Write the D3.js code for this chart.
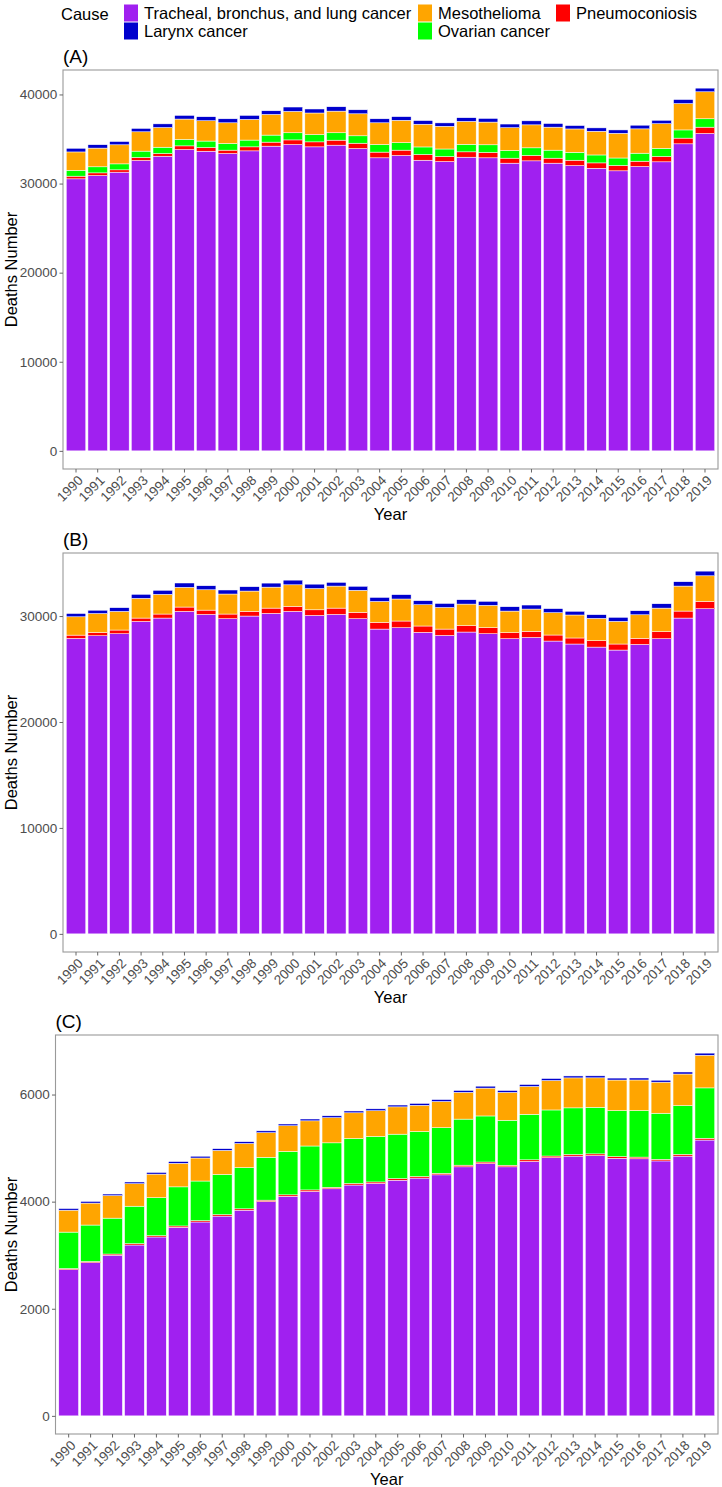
<!DOCTYPE html>
<html>
<head>
<meta charset="utf-8">
<script src="https://cdn.jsdelivr.net/npm/d3@7"></script>
<style>
    body { margin: 0; background: #ffffff; }
    svg text { font-family: "Liberation Sans", Arial, Helvetica, sans-serif; }
</style>
</head>
<body>
<svg id="chart" width="722" height="1487"></svg>
<script>
const years = ["1990", "1991", "1992", "1993", "1994", "1995", "1996", "1997", "1998", "1999",
    "2000", "2001", "2002", "2003", "2004", "2005", "2006", "2007", "2008", "2009",
    "2010", "2011", "2012", "2013", "2014", "2015", "2016", "2017", "2018", "2019"];

// stacking order, bottom to top
const keys = ["lung", "pneumo", "ovarian", "meso", "larynx"];
const causeNames = {
    lung: "Tracheal, bronchus, and lung cancer",
    meso: "Mesothelioma",
    pneumo: "Pneumoconiosis",
    larynx: "Larynx cancer",
    ovarian: "Ovarian cancer"
};
const causeColors = {
    lung: "#A020F0",
    meso: "#FFA500",
    pneumo: "#FF0000",
    larynx: "#0000CD",
    ovarian: "#00FF00"
};

// (A)
const lungA = [30530, 30900, 31280, 32590, 33070, 33820, 33630, 33370, 33670, 34200, 34380, 34120, 34310, 33930, 32890,
    33150, 32620, 32470, 32960, 32890, 32290, 32550, 32290, 32020, 31720, 31430, 31910, 32440, 34460, 35620];
const pneumoA = [300, 300, 260, 340, 300, 410, 410, 380, 450, 450, 520, 560, 560, 600, 640,
    600, 640, 560, 600, 600, 560, 600, 560, 600, 600, 600, 600, 600, 640, 710];
const ovarianA = [660, 680, 670, 710, 710, 720, 730, 750, 760, 790, 800, 810, 830, 830, 850,
    840, 850, 850, 840, 860, 870, 860, 900, 890, 890, 840, 900, 910, 920, 940];
const mesoA = [2060, 2100, 2140, 2170, 2210, 2290, 2280, 2320, 2320, 2320, 2400, 2430, 2430, 2470, 2440,
    2510, 2550, 2550, 2580, 2550, 2550, 2580, 2580, 2620, 2660, 2770, 2730, 2770, 2960, 3030];
const larynxA = [410, 380, 370, 380, 410, 410, 450, 450, 450, 410, 490, 450, 490, 450, 450,
    410, 410, 380, 410, 410, 410, 450, 410, 380, 380, 380, 410, 380, 450, 410];

// (B)
const lungB = [27890, 28140, 28330, 29490, 29810, 30440, 30150, 29750, 30000, 30250, 30440, 30060, 30150, 29750, 28770,
    28900, 28460, 28170, 28490, 28330, 27860, 27980, 27640, 27360, 27070, 26790, 27320, 27860, 29810, 30690];
const pneumoB = [310, 310, 350, 320, 380, 410, 410, 440, 440, 500, 470, 530, 600, 600, 630,
    630, 600, 600, 600, 570, 570, 570, 570, 570, 600, 570, 570, 660, 660, 690];
const ovarianB = [0, 0, 0, 0, 0, 0, 0, 0, 0, 0, 0, 0, 0, 0, 0,
    0, 0, 0, 0, 0, 0, 0, 0, 0, 0, 0, 0, 0, 0, 0];
const mesoB = [1730, 1790, 1760, 1860, 1860, 1860, 1920, 1890, 1920, 1980, 2040, 2010, 2080, 2080, 1980,
    2080, 2010, 2040, 2040, 2110, 2040, 2110, 2110, 2170, 2110, 2140, 2230, 2230, 2360, 2420];
const larynxB = [310, 310, 350, 380, 380, 410, 380, 380, 410, 380, 440, 410, 350, 380, 380,
    410, 380, 380, 410, 380, 410, 380, 380, 350, 350, 380, 380, 410, 410, 440];

// (C)
const lungC = [2730, 2860, 3000, 3190, 3340, 3520, 3620, 3730, 3840, 4000, 4100, 4190, 4240, 4310, 4340,
    4400, 4440, 4500, 4650, 4710, 4650, 4750, 4820, 4850, 4860, 4810, 4800, 4760, 4850, 5150];
const pneumoC = [21, 23, 22, 25, 24, 26, 25, 27, 26, 28, 27, 29, 28, 29, 28,
    30, 29, 30, 31, 30, 30, 31, 32, 31, 32, 31, 32, 31, 33, 34];
const ovarianC = [680, 680, 670, 700, 710, 730, 740, 750, 770, 800, 810, 820, 830, 840, 850,
    830, 840, 850, 860, 860, 840, 850, 860, 870, 870, 860, 870, 860, 910, 940];
const mesoC = [410, 410, 420, 420, 440, 440, 430, 450, 450, 460, 480, 470, 470, 480, 480,
    510, 490, 490, 500, 520, 520, 520, 550, 560, 550, 570, 570, 580, 590, 610];
const larynxC = [30, 31, 30, 32, 31, 32, 33, 32, 33, 34, 33, 34, 35, 34, 35,
    34, 35, 36, 35, 36, 35, 36, 37, 36, 37, 36, 37, 36, 38, 39];

const ticksAB = [0, 10000, 20000, 30000, 40000];
const ticksC = [0, 2000, 4000, 6000];

const svg = d3.select("#chart");
const panelRight = 718;
const panelH = 399;

function drawLegend() {
    const g = svg.append("g").attr("class", "legend");
    g.append("text")
        .attr("x", 61).attr("y", 14).attr("dy", "0.35em")
        .attr("font-size", "16.5px").attr("fill", "#000")
        .text("Cause");

    const items = [
        { key: "lung", x: 124, row: 0 },
        { key: "larynx", x: 124, row: 1 },
        { key: "meso", x: 418, row: 0 },
        { key: "ovarian", x: 418, row: 1 },
        { key: "pneumo", x: 556, row: 0 }
    ];
    items.forEach(it => {
        const cy = 13 + it.row * 18;
        g.append("rect")
            .attr("x", it.x).attr("y", cy - 8.5)
            .attr("width", 14).attr("height", 17)
            .attr("fill", causeColors[it.key]);
        g.append("text")
            .attr("x", it.x + 20).attr("y", cy).attr("dy", "0.35em")
            .attr("font-size", "16.5px").attr("fill", "#000")
            .text(causeNames[it.key]);
    });
}

function drawPanel(p) {
    const rows = years.map((yr, i) => ({
        year: yr,
        lung: p.lung[i],
        pneumo: p.pneumo[i],
        ovarian: p.ovarian[i],
        meso: p.meso[i],
        larynx: p.larynx[i]
    }));
    const series = d3.stack().keys(keys)(rows);
    const maxTotal = d3.max(rows, r => d3.sum(keys, k => r[k]));

    const bottom = p.top + panelH;
    const y = d3.scaleLinear()
        .domain([-0.05 * maxTotal, 1.05 * maxTotal])
        .range([bottom, p.top]);
    const x = d3.scaleBand()
        .domain(years)
        .range([p.left, panelRight])
        .paddingInner(0.1)
        .paddingOuter(0.15);

    const g = svg.append("g");

    g.append("g")
        .selectAll("g")
        .data(series)
        .enter().append("g")
        .attr("fill", d => causeColors[d.key])
        .selectAll("rect")
        .data(d => d)
        .enter().append("rect")
        .attr("x", d => x(d.data.year))
        .attr("y", d => y(d[1]))
        .attr("width", x.bandwidth())
        .attr("height", d => Math.max(0, y(d[0]) - y(d[1])))
        .attr("stroke", "#ffffff")
        .attr("stroke-width", 0.5);

    // panel border
    g.append("rect")
        .attr("x", p.left).attr("y", p.top)
        .attr("width", panelRight - p.left).attr("height", panelH)
        .attr("fill", "none")
        .attr("stroke", "#9a9a9a")
        .attr("stroke-width", 1.1);

    const shownTicks = p.ticks.filter(t => t <= y.domain()[1]);
    const yAxis = g.append("g")
        .attr("transform", `translate(${p.left},0)`)
        .call(d3.axisLeft(y).tickValues(shownTicks).tickSize(3.5).tickPadding(2.2).tickFormat(d3.format("d")));
    yAxis.select(".domain").remove();
    yAxis.selectAll(".tick line").attr("stroke", "#666");
    yAxis.selectAll(".tick text")
        .attr("fill", "#4d4d4d")
        .attr("font-size", "13.5px")
        .attr("font-family", "Liberation Sans, Arial, sans-serif");

    const xAxis = g.append("g")
        .attr("transform", `translate(0,${bottom})`)
        .call(d3.axisBottom(x).tickSize(3.5));
    xAxis.select(".domain").remove();
    xAxis.selectAll(".tick line").attr("stroke", "#666");
    xAxis.selectAll(".tick text")
        .attr("x", 0).attr("y", 0).attr("dy", null)
        .attr("dominant-baseline", "hanging")
        .attr("text-anchor", "end")
        .attr("transform", "translate(1,5.5) rotate(-45)")
        .attr("fill", "#4d4d4d")
        .attr("font-size", "13.5px")
        .attr("font-family", "Liberation Sans, Arial, sans-serif");

    // panel tag
    g.append("text")
        .attr("x", p.left).attr("y", p.top - 14).attr("dy", "0.35em")
        .attr("font-size", "19px").attr("fill", "#000")
        .text(p.title);

    // axis titles
    g.append("text")
        .attr("x", (p.left + panelRight) / 2)
        .attr("y", bottom + 45).attr("dy", "0.35em")
        .attr("text-anchor", "middle")
        .attr("font-size", "16.5px").attr("fill", "#000")
        .text("Year");

    g.append("text")
        .attr("transform", `translate(11,${p.top + panelH / 2}) rotate(-90)`)
        .attr("dy", "0.35em")
        .attr("text-anchor", "middle")
        .attr("font-size", "16.5px").attr("fill", "#000")
        .text("Deaths Number");
}

drawLegend();

drawPanel({ title: "(A)", top: 70, left: 63, ticks: ticksAB,
    lung: lungA, pneumo: pneumoA, ovarian: ovarianA, meso: mesoA, larynx: larynxA });
drawPanel({ title: "(B)", top: 553, left: 63, ticks: ticksAB,
    lung: lungB, pneumo: pneumoB, ovarian: ovarianB, meso: mesoB, larynx: larynxB });
drawPanel({ title: "(C)", top: 1035, left: 55.5, ticks: ticksC,
    lung: lungC, pneumo: pneumoC, ovarian: ovarianC, meso: mesoC, larynx: larynxC });
</script>
</body>
</html>
